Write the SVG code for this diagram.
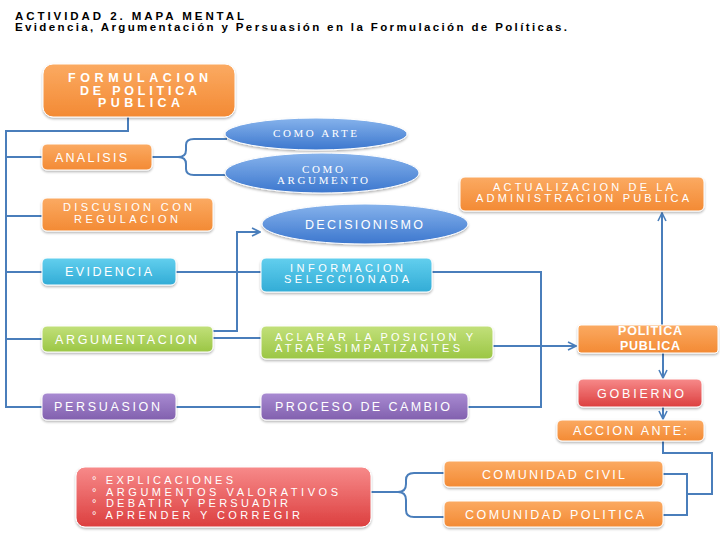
<svg xmlns="http://www.w3.org/2000/svg" width="720" height="540" viewBox="0 0 720 540">
<style>
text{font-family:"Liberation Sans",Arial,sans-serif;fill:#fff;font-size:12.5px}
.m{font-size:11px}
.t{fill:#000;font-weight:bold;font-size:11.5px}
.s{font-family:"Liberation Serif","Times New Roman",serif;font-size:11px}
.b{font-weight:bold}
.c{fill:none;stroke:#4A7EBB;stroke-width:2}
.box{stroke:#fff;stroke-width:1;filter:url(#sh)}
</style>
<defs>
<filter id="sh" x="-10%" y="-20%" width="120%" height="150%"><feDropShadow dx="0" dy="1.5" stdDeviation="1.2" flood-color="#000" flood-opacity="0.3"/></filter>
<linearGradient id="go" x1="0" y1="0" x2="0" y2="1"><stop offset="0" stop-color="#FBAA62"/><stop offset="1" stop-color="#F38A34"/></linearGradient>
<linearGradient id="gc" x1="0" y1="0" x2="0" y2="1"><stop offset="0" stop-color="#62CFEE"/><stop offset="1" stop-color="#32ACD6"/></linearGradient>
<linearGradient id="gg" x1="0" y1="0" x2="0" y2="1"><stop offset="0" stop-color="#C2E07A"/><stop offset="1" stop-color="#9BC645"/></linearGradient>
<linearGradient id="gp" x1="0" y1="0" x2="0" y2="1"><stop offset="0" stop-color="#A98BD2"/><stop offset="1" stop-color="#8160AE"/></linearGradient>
<linearGradient id="gb" x1="0" y1="0" x2="0" y2="1"><stop offset="0" stop-color="#86B3EC"/><stop offset="1" stop-color="#3C77CE"/></linearGradient>
<linearGradient id="gr" x1="0" y1="0" x2="0" y2="1"><stop offset="0" stop-color="#F78A8A"/><stop offset="1" stop-color="#DC3F3F"/></linearGradient>
<marker id="ar" viewBox="0 0 10 10" refX="9" refY="5" markerWidth="5" markerHeight="5" orient="auto" markerUnits="strokeWidth"><path d="M1,1 L9,5 L1,9" fill="none" stroke="#4A7EBB" stroke-width="1.6"/></marker>
</defs>
<rect width="720" height="540" fill="#fff"/>
<g id="title">
<text class="t" x="15" y="19.5" textLength="229" lengthAdjust="spacing">ACTIVIDAD 2. MAPA MENTAL</text>
<text class="t" x="15" y="31" textLength="552" lengthAdjust="spacing">Evidencia, Argumentación y Persuasión en la Formulación de Políticas.</text>
</g>
<g id="connectors">
<path class="c" d="M128,117 V131 H6 V407 H42"/>
<path class="c" d="M6,157 H42 M6,216 H42 M6,272 H42 M6,339 H42"/>
<path class="c" d="M152,157 H178 Q186,157 186,150 V145 Q186,139 194,139 H227 M178,157 Q186,157 186,164 V169 Q186,175 194,175 H227"/>
<path class="c" d="M176,272 H261"/>
<path class="c" d="M213,331 H237 V232 H260" marker-end="url(#ar)"/>
<path class="c" d="M213,338 H261"/>
<path class="c" d="M176,407 H261"/>
<path class="c" d="M432,272 H541 V407 H468"/>
<path class="c" d="M493,346 H576" marker-end="url(#ar)"/>
<path class="c" d="M662,325 V213" marker-end="url(#ar)"/>
<path class="c" d="M663,353 V378" marker-end="url(#ar)"/>
<path class="c" d="M663,407 V419" marker-end="url(#ar)"/>
<path class="c" d="M663,440 V453 H712 V494 H687 M663,474 H687 V515 H663"/>
<path class="c" d="M371,492 H398 Q406,492 406,484 V480 Q406,473 414,473 H444 M398,492 Q406,492 406,500 V510 Q406,517 414,517 H444"/>
</g>
<g id="n-formulacion">
<rect class="box" x="43" y="64" width="192" height="53" rx="10" fill="url(#go)" stroke="#f2f2f2" stroke-width="2.5"/>
<text class="b" x="68" y="82" font-size="13" textLength="140" lengthAdjust="spacing">FORMULACION</text>
<text class="b" x="80" y="94.5" font-size="13" textLength="117" lengthAdjust="spacing">DE POLITICA</text>
<text class="b" x="98" y="107" font-size="13" textLength="82" lengthAdjust="spacing">PUBLICA</text>
</g>
<g id="n-analisis">
<rect class="box" x="42" y="144" width="110" height="26" rx="5" fill="url(#go)"/>
<text x="55" y="161.5" textLength="72" lengthAdjust="spacing">ANALISIS</text>
</g>
<g id="n-comoarte">
<ellipse class="box" cx="316" cy="134" rx="91" ry="16" fill="url(#gb)"/>
<text class="s" x="273" y="137" textLength="84" lengthAdjust="spacing">COMO ARTE</text>
</g>
<g id="n-comoargumento">
<ellipse class="box" cx="322" cy="173" rx="97" ry="20" fill="url(#gb)"/>
<text class="s" x="302" y="172.5" textLength="41" lengthAdjust="spacing">COMO</text>
<text class="s" x="277" y="184" textLength="91" lengthAdjust="spacing">ARGUMENTO</text>
</g>
<g id="n-discusion">
<rect class="box" x="42" y="198" width="171" height="33" rx="5" fill="url(#go)"/>
<text class="m" x="63" y="211" textLength="129" lengthAdjust="spacing">DISCUSION CON</text>
<text class="m" x="74" y="222.5" textLength="104" lengthAdjust="spacing">REGULACION</text>
</g>
<g id="n-decisionismo">
<ellipse class="box" cx="365" cy="224" rx="103" ry="20" fill="url(#gb)"/>
<text x="305" y="228.5" textLength="118" lengthAdjust="spacing">DECISIONISMO</text>
</g>
<g id="n-actualizacion">
<rect class="box" x="460" y="177" width="244" height="34" rx="5" fill="url(#go)"/>
<text class="m" x="493" y="190.5" textLength="180" lengthAdjust="spacing">ACTUALIZACION DE LA</text>
<text class="m" x="476" y="202" textLength="213" lengthAdjust="spacing">ADMINISTRACION PUBLICA</text>
</g>
<g id="n-evidencia">
<rect class="box" x="42" y="258" width="134" height="27" rx="5" fill="url(#gc)"/>
<text x="65" y="275.5" textLength="87" lengthAdjust="spacing">EVIDENCIA</text>
</g>
<g id="n-informacion">
<rect class="box" x="261" y="258" width="171" height="34" rx="5" fill="url(#gc)"/>
<text class="m" x="290" y="271.5" textLength="113" lengthAdjust="spacing">INFORMACION</text>
<text class="m" x="284" y="283" textLength="125" lengthAdjust="spacing">SELECCIONADA</text>
</g>
<g id="n-argumentacion">
<rect class="box" x="42" y="326" width="171" height="26" rx="5" fill="url(#gg)"/>
<text x="55" y="343.5" textLength="142" lengthAdjust="spacing">ARGUMENTACION</text>
</g>
<g id="n-aclarar">
<rect class="box" x="261" y="326" width="232" height="33" rx="5" fill="url(#gg)"/>
<text class="m" x="275" y="340.5" textLength="198" lengthAdjust="spacing">ACLARAR LA POSICION Y</text>
<text class="m" x="275" y="352" textLength="185" lengthAdjust="spacing">ATRAE SIMPATIZANTES</text>
</g>
<g id="n-politica">
<rect class="box" x="578" y="325" width="140" height="28" rx="3" fill="url(#go)"/>
<text class="b" x="618" y="335" font-size="13" textLength="64" lengthAdjust="spacing">POLITICA</text>
<text class="b" x="620" y="350" font-size="13" textLength="60" lengthAdjust="spacing">PUBLICA</text>
</g>
<g id="n-gobierno">
<rect class="box" x="578" y="379" width="124" height="28" rx="5" fill="url(#gr)"/>
<text x="597" y="397.5" textLength="87" lengthAdjust="spacing">GOBIERNO</text>
</g>
<g id="n-persuasion">
<rect class="box" x="42" y="393" width="134" height="27" rx="5" fill="url(#gp)"/>
<text x="54" y="411" textLength="106" lengthAdjust="spacing">PERSUASION</text>
</g>
<g id="n-proceso">
<rect class="box" x="261" y="393" width="207" height="27" rx="5" fill="url(#gp)"/>
<text x="275" y="411" textLength="175" lengthAdjust="spacing">PROCESO DE CAMBIO</text>
</g>
<g id="n-accion">
<rect class="box" x="557" y="420" width="147" height="21" rx="5" fill="url(#go)"/>
<text x="573" y="435" textLength="114" lengthAdjust="spacing">ACCION ANTE:</text>
</g>
<g id="n-civil">
<rect class="box" x="444" y="461" width="219" height="26" rx="5" fill="url(#go)"/>
<text x="482" y="478.5" textLength="143" lengthAdjust="spacing">COMUNIDAD CIVIL</text>
</g>
<g id="n-compolitica">
<rect class="box" x="444" y="501" width="219" height="26" rx="5" fill="url(#go)"/>
<text x="465" y="518.5" textLength="179" lengthAdjust="spacing">COMUNIDAD POLITICA</text>
</g>
<g id="n-lista">
<rect class="box" x="76" y="467" width="295" height="60" rx="9" fill="url(#gr)"/>
<text class="m" x="92" y="484" textLength="141" lengthAdjust="spacing">° EXPLICACIONES</text>
<text class="m" x="92" y="495.5" textLength="246" lengthAdjust="spacing">° ARGUMENTOS VALORATIVOS</text>
<text class="m" x="92" y="507" textLength="196" lengthAdjust="spacing">° DEBATIR Y PERSUADIR</text>
<text class="m" x="92" y="518.5" textLength="208" lengthAdjust="spacing">° APRENDER Y CORREGIR</text>
</g>
</svg>
